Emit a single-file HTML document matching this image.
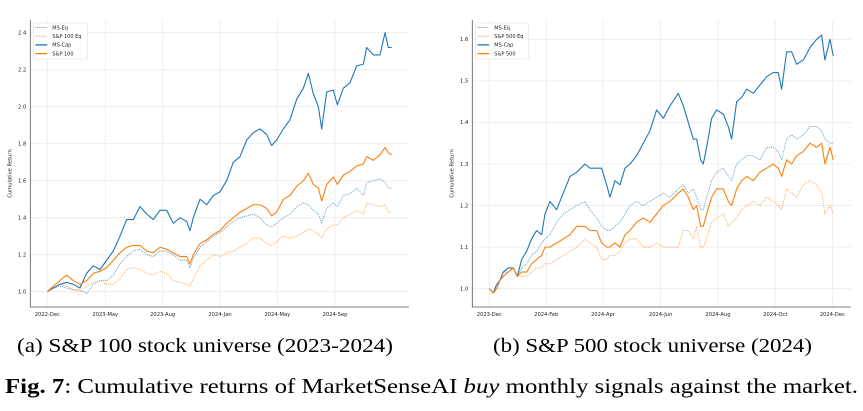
<!DOCTYPE html>
<html><head><meta charset="utf-8"><style>
body{margin:0;width:863px;height:411px;background:#fff;overflow:hidden;position:relative;font-family:"Liberation Serif",serif}
svg{position:absolute;left:0;top:0}
.cap{position:absolute;font-family:"Liberation Serif",serif;color:#000;white-space:nowrap;transform-origin:0 0;display:inline-block;line-height:1.15}
</style></head><body>
<svg id="s" width="863" height="330"></svg>
<div class="cap" id="ca" data-w="376" style="left:17px;top:335px;font-size:20px">(a) S&amp;P 100 stock universe (2023-2024)</div>
<div class="cap" id="cb" data-w="319" style="left:493px;top:335px;font-size:20px">(b) S&amp;P 500 stock universe (2024)</div>
<div class="cap" id="cf" data-w="853" style="left:5px;top:374px;font-size:21px"><b>Fig. 7</b>: Cumulative returns of MarketSenseAI <i>buy</i> monthly signals against the market.</div>
<script>
// Chart A data
const tA=[0,18,38,58,78,98,118,138,158,178,198,218,238,258,278,298,318,338,358,378,398,418,428,438,458,478,498,518,538,558,578,598,618,638,658,673,688,708,728,748,768,783,798,813,823,838,858,870,888,908,928,948,958,978,998,1013,1023,1033];
const capA=[1.0,1.02,1.04,1.05,1.04,1.02,1.10,1.14,1.12,1.17,1.22,1.30,1.39,1.39,1.46,1.42,1.39,1.44,1.44,1.37,1.40,1.38,1.33,1.40,1.50,1.47,1.52,1.54,1.60,1.70,1.73,1.82,1.86,1.88,1.85,1.79,1.82,1.88,1.93,2.04,2.10,2.18,2.07,2.00,1.88,2.08,2.09,2.01,2.10,2.13,2.22,2.23,2.32,2.28,2.28,2.40,2.32,2.32];
const mktA=[1.0,1.03,1.06,1.09,1.06,1.04,1.06,1.10,1.11,1.13,1.17,1.21,1.24,1.25,1.25,1.22,1.21,1.24,1.23,1.21,1.19,1.19,1.15,1.20,1.26,1.28,1.31,1.33,1.37,1.40,1.43,1.45,1.47,1.47,1.45,1.41,1.43,1.50,1.52,1.57,1.60,1.64,1.58,1.56,1.49,1.58,1.62,1.58,1.63,1.65,1.68,1.69,1.73,1.71,1.74,1.78,1.75,1.74];
const eqA=[1.0,1.02,1.03,1.02,1.01,1.01,0.99,1.04,1.06,1.06,1.09,1.15,1.19,1.22,1.23,1.20,1.19,1.22,1.22,1.20,1.17,1.17,1.13,1.18,1.24,1.27,1.30,1.32,1.35,1.38,1.40,1.41,1.42,1.40,1.36,1.35,1.37,1.40,1.42,1.46,1.48,1.47,1.44,1.42,1.37,1.45,1.48,1.46,1.52,1.53,1.56,1.52,1.59,1.60,1.61,1.59,1.56,1.56];
const mktEqA=[1.0,1.02,1.04,1.03,1.01,1.0,1.03,1.05,1.06,1.04,1.04,1.07,1.12,1.13,1.12,1.10,1.09,1.11,1.10,1.06,1.05,1.04,1.03,1.07,1.14,1.17,1.20,1.19,1.21,1.22,1.24,1.26,1.29,1.29,1.26,1.25,1.27,1.30,1.29,1.30,1.32,1.34,1.33,1.31,1.29,1.34,1.36,1.36,1.40,1.42,1.44,1.42,1.48,1.47,1.46,1.47,1.43,1.43];
const xLabA=["2022-Dec","2023-May","2023-Aug","2024-Jan","2024-May","2024-Sep"];
const xTickTA=[0,174,346,518,690,863];
const yTicksA=[1.0,1.2,1.4,1.6,1.8,2.0,2.2,2.4];
// Chart B data
const tB=[0,12,22,32,42,57,72,84,97,112,127,142,157,167,182,202,222,242,262,287,302,322,337,352,362,377,392,407,422,442,462,482,502,522,542,567,582,597,612,622,634,642,652,667,682,702,717,727,742,757,772,792,812,832,852,867,877,892,907,922,942,962,982,997,1007,1022,1032];
const capB=[1.0,0.99,1.01,1.02,1.04,1.05,1.05,1.03,1.07,1.09,1.12,1.14,1.13,1.18,1.21,1.19,1.23,1.27,1.28,1.30,1.29,1.29,1.29,1.25,1.22,1.26,1.25,1.29,1.30,1.32,1.35,1.38,1.43,1.41,1.44,1.47,1.44,1.40,1.36,1.36,1.31,1.30,1.34,1.41,1.43,1.42,1.39,1.36,1.45,1.46,1.48,1.47,1.49,1.51,1.52,1.52,1.48,1.57,1.57,1.54,1.55,1.58,1.60,1.61,1.55,1.60,1.56];
const mktB=[1.0,0.99,1.0,1.02,1.03,1.04,1.05,1.03,1.04,1.04,1.06,1.07,1.08,1.10,1.10,1.11,1.12,1.13,1.15,1.15,1.14,1.14,1.11,1.10,1.10,1.11,1.10,1.13,1.14,1.16,1.17,1.16,1.18,1.20,1.21,1.23,1.24,1.22,1.19,1.20,1.15,1.15,1.18,1.22,1.24,1.24,1.21,1.20,1.24,1.26,1.27,1.26,1.28,1.29,1.30,1.29,1.27,1.31,1.30,1.32,1.33,1.35,1.34,1.35,1.30,1.34,1.31];
const eqB=[1.0,0.99,1.01,1.02,1.04,1.04,1.05,1.03,1.05,1.06,1.08,1.09,1.11,1.12,1.13,1.16,1.18,1.19,1.20,1.21,1.19,1.17,1.15,1.14,1.14,1.15,1.16,1.18,1.20,1.21,1.20,1.21,1.22,1.23,1.22,1.24,1.25,1.23,1.24,1.22,1.19,1.19,1.22,1.26,1.28,1.29,1.27,1.26,1.30,1.31,1.32,1.32,1.31,1.34,1.34,1.33,1.31,1.36,1.37,1.36,1.37,1.39,1.39,1.38,1.36,1.35,1.35];
const mktEqB=[1.0,0.99,1.0,1.02,1.03,1.04,1.05,1.03,1.03,1.03,1.04,1.05,1.05,1.06,1.06,1.07,1.08,1.09,1.10,1.12,1.11,1.10,1.07,1.07,1.08,1.08,1.09,1.11,1.12,1.12,1.10,1.10,1.11,1.10,1.10,1.10,1.14,1.14,1.12,1.15,1.10,1.10,1.12,1.16,1.17,1.18,1.15,1.16,1.17,1.19,1.20,1.21,1.20,1.22,1.21,1.20,1.19,1.24,1.23,1.22,1.25,1.26,1.25,1.23,1.18,1.20,1.18];
const xLabB=["2023-Dec","2024-Feb","2024-Apr","2024-Jun","2024-Aug","2024-Oct","2024-Dec"];
const xTickTB=[0,171,341,514,686,858,1029];
const yTicksB=[1.0,1.1,1.2,1.3,1.4,1.5,1.6];

const NS="http://www.w3.org/2000/svg";
const svg=document.getElementById('s');
function el(tag,attrs,parent){const e=document.createElementNS(NS,tag);for(const k in attrs)e.setAttribute(k,attrs[k]);(parent||svg).appendChild(e);return e;}

function chart(cfg){
  const g=el('g',{});
  
  
  const X=t=>cfg.x0+(t-cfg.t0)/(cfg.t1-cfg.t0)*(cfg.px1-cfg.x0);
  const Y=v=>cfg.y0+(v-cfg.v0)/(cfg.v1-cfg.v0)*(cfg.py1-cfg.y0);
  cfg.yTicks.forEach(v=>{
    const l=el('line',{x1:cfg.left,x2:cfg.right,y1:Y(v),y2:Y(v),stroke:'#ebebeb','stroke-width':0.8},g);
    
    const tx=el('text',{x:cfg.left-4,y:Y(v)+1.8,'font-size':5.2,'text-anchor':'end',fill:'#222','font-family':'DejaVu Sans, sans-serif'},g);
    tx.textContent=v.toFixed(1);
    
  });
  cfg.xTickT.forEach((t,i)=>{
    const l=el('line',{x1:X(t),x2:X(t),y1:cfg.top,y2:cfg.bottom,stroke:'#ebebeb','stroke-width':0.8},g);
    
    const tx=el('text',{x:X(t),y:cfg.bottom+9,'font-size':5.2,'text-anchor':'middle',fill:'#222','font-family':'DejaVu Sans, sans-serif'},g);
    tx.textContent=cfg.xLab[i];
    
  });
  const ax=el('path',{d:`M${cfg.left},${cfg.top}V${cfg.bottom}H${cfg.right}`,fill:'none',stroke:'#555','stroke-width':0.8},g);
  
  const yt=el('text',{transform:`translate(${cfg.left-19},${(cfg.top+cfg.bottom)/2+10}) rotate(-90)`,'font-size':5.2,'text-anchor':'middle',fill:'#222','font-family':'DejaVu Sans, sans-serif'},g);
  yt.textContent='Cumulative Return';
  
  cfg.series.forEach(s=>{
    const d=s.vals.map((v,i)=>(i?'L':'M')+X(cfg.t[i]).toFixed(2)+','+Y(v).toFixed(2)).join('');
    const p=el('path',{d,fill:'none',stroke:s.color,'stroke-width':s.w,'stroke-dasharray':s.dash||'none','stroke-opacity':s.op||1,'stroke-linejoin':'round'},g);
    
  });
  const lg=el('g',{},g);
  
  el('rect',{x:cfg.left+3,y:cfg.top+3,width:cfg.legW,height:36,rx:1.5,fill:'#fff',stroke:'#ddd','stroke-width':0.6},lg);
  cfg.series.forEach((s,i)=>{
    const yy=cfg.top+7.5+i*8.7;
    const ln=el('line',{x1:cfg.left+5,x2:cfg.left+17,y1:yy,y2:yy,stroke:s.color,'stroke-width':s.w+0.2,'stroke-dasharray':s.dash||'none','stroke-opacity':s.op||1},lg);
    
    const tx=el('text',{x:cfg.left+22,y:yy+1.8,'font-size':5,fill:'#222','font-family':'DejaVu Sans, sans-serif'},lg);
    tx.textContent=s.label;
    
  });
}
chart({name:'chart-sp100',left:30.3,right:409,top:20,bottom:307,x0:47.3,px1:391.7,t0:0,t1:1033,y0:291.7,py1:32.7,v0:1.0,v1:2.4,legW:54,
  t:tA,xTickT:xTickTA,xLab:xLabA,yTicks:yTicksA,series:[
  {id:'line-ms-eq',label:'MS-Eq',vals:eqA,color:'#1f77b4',w:0.9,dash:'1,1',op:0.75},
  {id:'line-sp100-eq',label:'S&P 100 Eq',vals:mktEqA,color:'#ff7f0e',w:0.9,dash:'1,1',op:0.75},
  {id:'line-ms-cap',label:'MS-Cap',vals:capA,color:'#1f77b4',w:1.1},
  {id:'line-sp100',label:'S&P 100',vals:mktA,color:'#ff7f0e',w:1.1}]});
chart({name:'chart-sp500',left:472.3,right:851,top:20,bottom:307,x0:489.3,px1:833.3,t0:0,t1:1032,y0:288.7,py1:39.3,v0:1.0,v1:1.6,legW:53,
  t:tB,xTickT:xTickTB,xLab:xLabB,yTicks:yTicksB,series:[
  {id:'line-ms-eq',label:'MS-Eq',vals:eqB,color:'#1f77b4',w:0.9,dash:'1,1',op:0.75},
  {id:'line-sp500-eq',label:'S&P 500 Eq',vals:mktEqB,color:'#ff7f0e',w:0.9,dash:'1,1',op:0.75},
  {id:'line-ms-cap',label:'MS-Cap',vals:capB,color:'#1f77b4',w:1.1},
  {id:'line-sp500',label:'S&P 500',vals:mktB,color:'#ff7f0e',w:1.1}]});
document.querySelectorAll('.cap').forEach(c=>{
  const w=c.getBoundingClientRect().width;
  const target=+c.getAttribute('data-w');
  c.style.transform='scaleX('+(target/w)+')';
});
</script>
</body></html>
